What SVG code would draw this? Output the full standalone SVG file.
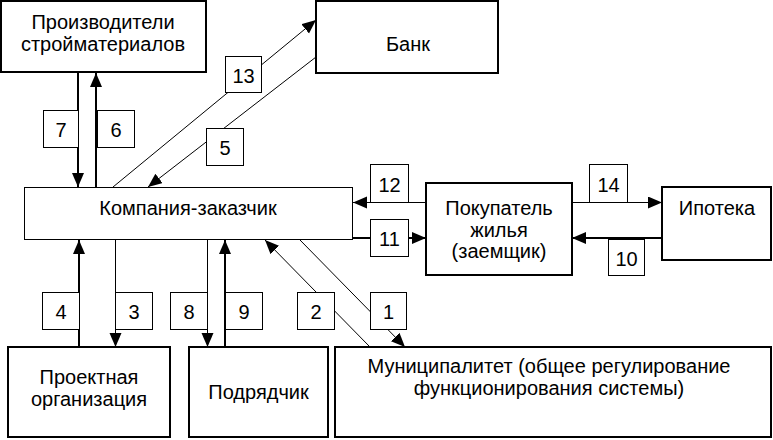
<svg xmlns="http://www.w3.org/2000/svg" width="773" height="440" viewBox="0 0 773 440">
<defs>
<marker id="ah" markerUnits="userSpaceOnUse" markerWidth="15" markerHeight="13" refX="14" refY="6" orient="auto" viewBox="0 0 15 13">
<path d="M0,0 L14,6 L0,12 Z" fill="#000"/>
</marker>
<style>
.box{fill:#fff;stroke:#000;stroke-width:2}
.thinbox{fill:#fff;stroke:#000;stroke-width:1}
.lbl{fill:#fff;stroke:#000;stroke-width:1}
text{font-family:"Liberation Sans",Arial,sans-serif;font-size:20px;fill:#000;text-anchor:middle}
.thick{stroke:#000;stroke-width:2;fill:none;marker-end:url(#ah)}
.thin{stroke:#000;stroke-width:1;fill:none;marker-end:url(#ah)}
</style>
</defs>
<rect width="773" height="440" fill="#fff"/>
<g id="connectors">
<line class="thick" x1="78" y1="73" x2="78" y2="187"/>
<line class="thick" x1="96" y1="187" x2="96" y2="73"/>
<line class="thin" x1="113" y1="187" x2="316" y2="20"/>
<line class="thin" x1="316" y1="57" x2="148" y2="187"/>
<line class="thin" x1="426" y1="202.5" x2="353" y2="202.5"/>
<line class="thick" x1="353" y1="238" x2="426" y2="238"/>
<line class="thin" x1="572" y1="202.5" x2="662" y2="202.5"/>
<line class="thick" x1="662" y1="238" x2="572" y2="238"/>
<line class="thick" x1="79" y1="347" x2="79" y2="240"/>
<line class="thin" x1="115.5" y1="240" x2="115.5" y2="347"/>
<line class="thin" x1="207.5" y1="240" x2="207.5" y2="347"/>
<line class="thick" x1="225" y1="347" x2="225" y2="240"/>
<line class="thin" x1="370" y1="347" x2="265" y2="240"/>
<line class="thin" x1="300" y1="240" x2="405" y2="347"/>
<g id="labels">
<rect class="lbl" x="43.5" y="110.5" width="35" height="37"/><text x="61" y="137">7</text>
<rect class="lbl" x="97.5" y="110.5" width="37" height="37"/><text x="116" y="137">6</text>
<rect class="lbl" x="225.5" y="56.5" width="36" height="36"/><text x="243.5" y="82.5">13</text>
<rect class="lbl" x="206.5" y="128.5" width="37" height="37"/><text x="225" y="155">5</text>
<rect class="lbl" x="370.5" y="164.5" width="38" height="38"/><text x="389.5" y="191.5">12</text>
<rect class="lbl" x="370.5" y="219.5" width="38" height="37"/><text x="389.5" y="246">11</text>
<rect class="lbl" x="589.5" y="164.5" width="38" height="38"/><text x="608.5" y="191.5">14</text>
<rect class="lbl" x="608.5" y="239.5" width="36" height="36"/><text x="626.5" y="265.5">10</text>
<rect class="lbl" x="42.5" y="292.5" width="37" height="37"/><text x="61" y="319">4</text>
<rect class="lbl" x="115.5" y="292.5" width="37" height="37"/><text x="134" y="319">3</text>
<rect class="lbl" x="170.5" y="292.5" width="37" height="37"/><text x="189" y="319">8</text>
<rect class="lbl" x="225.5" y="292.5" width="37" height="37"/><text x="244" y="319">9</text>
<rect class="lbl" x="297.5" y="292.5" width="37" height="37"/><text x="316" y="319">2</text>
<rect class="lbl" x="370.5" y="292.5" width="36" height="37"/><text x="388.5" y="319">1</text>
</g>
</g>
<g id="proizvoditeli">
<rect class="box" x="1" y="1" width="205" height="71"/>
<text x="103" y="29">Производители</text>
<text x="103" y="51">стройматериалов</text>
</g>
<g id="bank">
<rect class="box" x="316" y="1" width="182" height="72"/>
<text x="408" y="51">Банк</text>
</g>
<g id="kompaniya">
<rect class="thinbox" x="24.5" y="187.5" width="328" height="52"/>
<text x="188" y="215">Компания-заказчик</text>
</g>
<g id="pokupatel">
<rect class="box" x="426" y="183" width="146" height="92"/>
<text x="499" y="215">Покупатель</text>
<text x="499" y="237">жилья</text>
<text x="499" y="258">(заемщик)</text>
</g>
<g id="ipoteka">
<rect class="box" x="662" y="187" width="109" height="73"/>
<text x="717" y="215">Ипотека</text>
</g>
<g id="proektnaya">
<rect class="box" x="8" y="347" width="162" height="90"/>
<text x="89" y="384">Проектная</text>
<text x="89" y="406">организация</text>
</g>
<g id="podryadchik">
<rect class="box" x="189" y="347" width="139" height="90"/>
<text x="258.5" y="399">Подрядчик</text>
</g>
<g id="municipalitet">
<rect class="box" x="335" y="347" width="436" height="90"/>
<text x="549" y="373">Муниципалитет (общее регулирование</text>
<text x="549" y="395">функционирования системы)</text>
</g>
</svg>
